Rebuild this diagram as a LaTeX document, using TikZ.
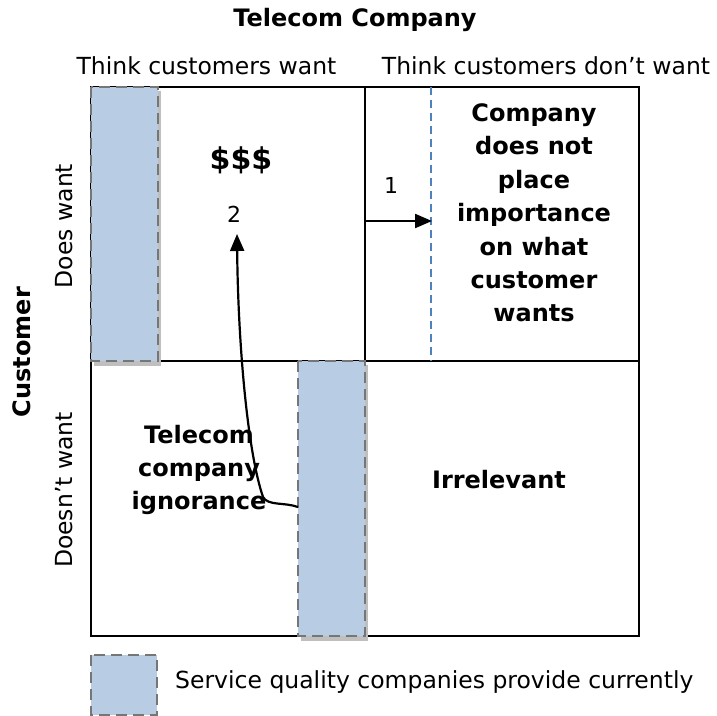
\documentclass[tikz,border=0pt]{standalone}
\usepackage{fontspec}
\setmainfont{DejaVu Sans}
\usetikzlibrary{arrows.meta}
\definecolor{svcfill}{HTML}{B8CCE4}
\definecolor{svcedge}{HTML}{767676}
\definecolor{svcshadow}{HTML}{BFBFBF}
\definecolor{limitline}{HTML}{4F81BD}
\begin{document}
\begin{tikzpicture}[x=1pt,y=-1pt,
  lbl/.style={inner sep=0pt,font=\fontsize{23.5}{28}\selectfont},
  blbl/.style={inner sep=0pt,align=center,font=\fontsize{24}{33.4}\selectfont\bfseries},
  grid/.style={line width=2pt,black},
  svcbar/.style={fill=svcfill,draw=svcedge,line width=2.6pt,dash pattern=on 11pt off 6pt},
  svcshade/.style={fill=svcshadow,draw=none},
  flow/.style={line width=2.2pt,-{Triangle[length=17pt,width=14pt]}}]
\useasboundingbox (0,0) rectangle (717,715);

% quadrant grid
\draw[grid] (91,87) rectangle (639,636);
\draw[grid] (365,87) -- (365,636);
\draw[grid] (91,361) -- (639,361);

% service quality bars with drop shadow
\fill[svcshade] (94,91) rectangle (161,366);
\draw[svcbar] (91,87) rectangle (158,361);
\fill[svcshade] (301,365) rectangle (368,641);
\draw[svcbar] (298,361) rectangle (365,636);

% threshold line in the upper right quadrant
\draw[limitline,line width=2pt,dash pattern=on 8pt off 5pt] (431,87) -- (431,361);

% headings
\node[blbl] (title) at (355,20) {Telecom Company};
\node[lbl] (cwant) at (206.5,66) {Think customers want};
\node[lbl] (cnot) at (546,66) {Think customers don’t want};
\node[blbl,rotate=90] (cust) at (22,352) {Customer};
\node[lbl,rotate=90] (dwant) at (64,226) {Does want};
\node[lbl,rotate=90] (dnot) at (64,490) {Doesn’t want};

% quadrant contents
\node[blbl,font=\fontsize{30}{33}\selectfont\bfseries] (money) at (241,160) {\$\$\$};
\node[lbl,font=\fontsize{22}{26}\selectfont] (two) at (234,214) {2};
\node[lbl,font=\fontsize{22}{26}\selectfont] (one) at (391,185) {1};
\node[blbl] (ignore) at (534,213) {Company\\does not\\place\\importance\\on what\\customer\\wants};
\node[blbl] (ignorance) at (199,470) {Telecom\\company\\ignorance};
\node[blbl] (irrel) at (499,480) {Irrelevant};

% arrows
\coordinate (a1s) at (365,221);
\coordinate (a1e) at (432,221);
\draw[flow] (a1s) -- (a1e);
\coordinate (a2s) at (298,507);
\coordinate (a2k) at (263,497);
\coordinate (a2e) at (237,234);
\draw[flow] (a2s) .. controls (284,502) and (268,506) .. (a2k)
  .. controls (247,450) and (238,340) .. (a2e);

% legend
\draw[svcbar] (91,655) rectangle (157,715);
\node[lbl,anchor=west] (legend) at (175,682) {Service quality companies provide currently};
\end{tikzpicture}
\end{document}
